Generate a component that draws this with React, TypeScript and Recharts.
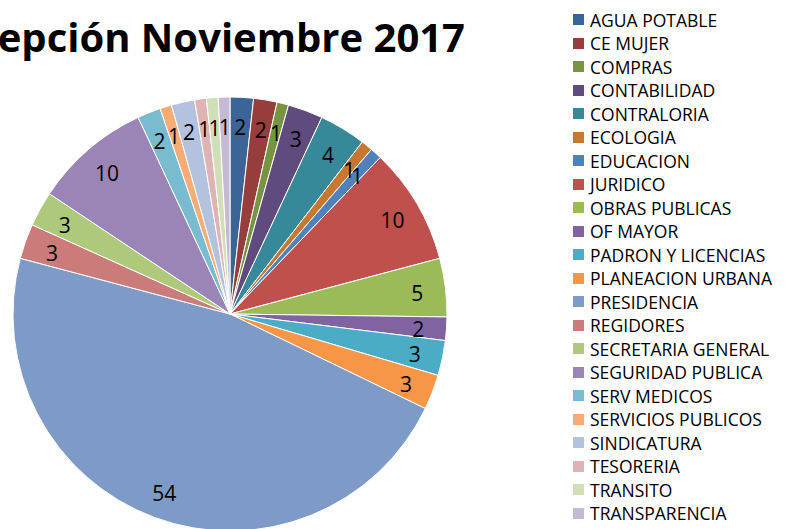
import { PieChart, Pie, Cell, Legend } from 'recharts';

const areas = [
  'AGUA POTABLE', 'CE MUJER', 'COMPRAS', 'CONTABILIDAD', 'CONTRALORIA', 'ECOLOGIA',
  'EDUCACION', 'JURIDICO', 'OBRAS PUBLICAS', 'OF MAYOR', 'PADRON Y LICENCIAS',
  'PLANEACION URBANA', 'PRESIDENCIA', 'REGIDORES', 'SECRETARIA GENERAL',
  'SEGURIDAD PUBLICA', 'SERV MEDICOS', 'SERVICIOS PUBLICOS', 'SINDICATURA',
  'TESORERIA', 'TRANSITO', 'TRANSPARENCIA',
];

const counts = [2, 2, 1, 3, 4, 1, 1, 10, 5, 2, 3, 3, 54, 3, 3, 10, 2, 1, 2, 1, 1, 1];

const COLORS = [
  '#3b6596', '#973d3b', '#779441', '#604b7f', '#378899', '#c8772f',
  '#4f81bd', '#c0504d', '#9bbb59', '#8064a2', '#4bacc6',
  '#f79646', '#7e9bc8', '#cb7b79', '#afc97b',
  '#9a85b6', '#79bcd0', '#f9ab75', '#b4c3dd',
  '#ddb4b3', '#d1dfb8', '#c4bad4',
];

const data = areas.map((name, i) => ({ name, value: counts[i] }));

const FONT = '"Open Sans", Calibri, sans-serif';
const RADIAN = Math.PI / 180;

const renderLabel = (props: any) => {
  const { cx, cy, midAngle, outerRadius, value } = props;
  const r = outerRadius * 0.87;
  const x = cx + r * Math.cos(-midAngle * RADIAN);
  const y = cy + r * Math.sin(-midAngle * RADIAN) + 2;
  return (
    <text x={x} y={y} fill="#000" fontSize={21} fontFamily={FONT}
      textAnchor="middle" dominantBaseline="central">
      {value}
    </text>
  );
};

const renderLegend = () => (
  <div style={{ fontFamily: FONT }}>
    {data.map((d, i) => (
      <div key={d.name} style={{ display: 'flex', alignItems: 'center', height: 23.5 }}>
        <span style={{ width: 11, height: 11, background: COLORS[i], marginRight: 6 }} />
        <span style={{ fontSize: 17.5, color: '#000', whiteSpace: 'nowrap' }}>{d.name}</span>
      </div>
    ))}
  </div>
);

export default function App() {
  return (
    <div style={{ position: 'absolute', left: 0, top: 0, width: 786, height: 529, overflow: 'hidden', background: '#fff' }}>
      <PieChart width={786} height={529} margin={{ top: 0, right: 0, bottom: 0, left: 0 }}>
        <text x={465} y={52} textAnchor="end" fontSize={40} fontWeight="bold" fontFamily={FONT} fill="#000">
          Recepción Noviembre 2017
        </text>
        <Pie
          data={data}
          dataKey="value"
          nameKey="name"
          cx={230}
          cy={314}
          outerRadius={217}
          startAngle={90}
          endAngle={-270}
          stroke="#fff"
          strokeWidth={1}
          label={renderLabel}
          labelLine={false}
          isAnimationActive={false}
        >
          {data.map((_, i) => (
            <Cell key={`cell-${i}`} fill={COLORS[i]} />
          ))}
        </Pie>
        <Legend
          layout="vertical"
          content={renderLegend}
          wrapperStyle={{ position: 'absolute', left: 573, top: 8, width: 213 }}
        />
      </PieChart>
    </div>
  );
}
